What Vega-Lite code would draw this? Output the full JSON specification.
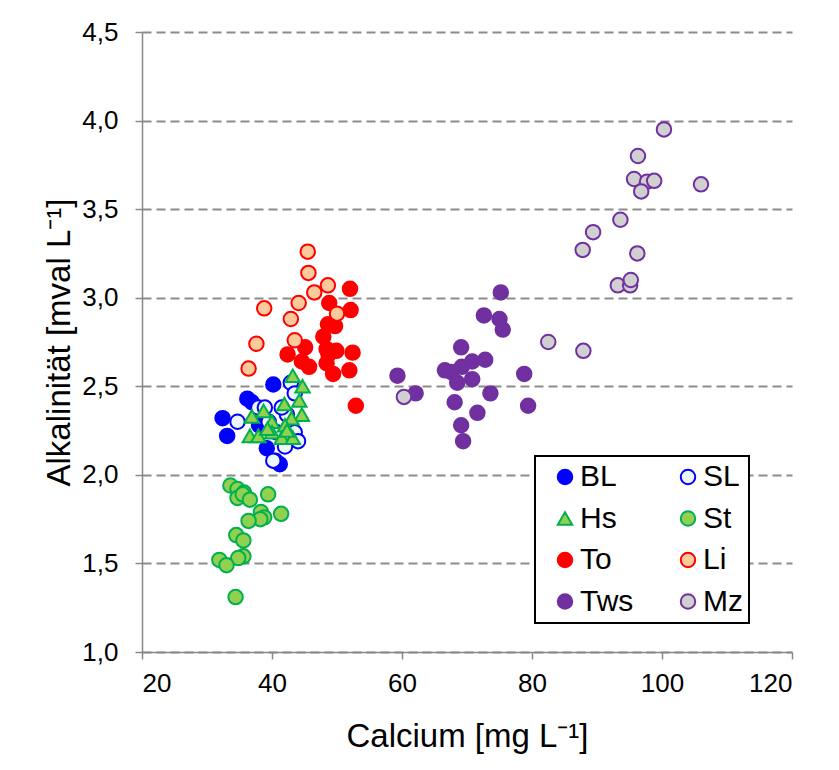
{
  "$schema": "https://vega.github.io/schema/vega-lite/v6.json",
  "width": 650,
  "height": 620,
  "autosize": {"type": "none"},
  "padding": {"left": 142, "top": 32, "right": 47, "bottom": 118},
  "background": "white",
  "config": {
    "locale": {"number": {"decimal": ",", "thousands": ".", "grouping": [3], "currency": ["", " €"]}},
    "font": "Liberation Sans",
    "view": {"stroke": null},
    "legend": {
      "orient": "none",
      "legendX": 393,
      "legendY": 424,
      "columns": 2,
      "direction": "horizontal",
      "padding": 6,
      "strokeColor": "black",
      "strokeWidth": 2,
      "fillColor": "white",
      "labelFont": "Liberation Sans",
      "labelFontSize": 30,
      "labelColor": "black",
      "symbolSize": 210,
      "symbolStrokeWidth": 2,
      "symbolOffset": 9,
      "labelOffset": 0,
      "columnPadding": 30,
      "rowPadding": 11.5,
      "labelLimit": 300
    }
  },
  "data": {
    "values": [
      {"s": "BL", "ca": 32.4, "alk": 2.32},
      {"s": "BL", "ca": 33.1, "alk": 2.22},
      {"s": "BL", "ca": 36.9, "alk": 2.41},
      {"s": "BL", "ca": 36.2, "alk": 2.43},
      {"s": "BL", "ca": 40.2, "alk": 2.51},
      {"s": "BL", "ca": 39.2, "alk": 2.15},
      {"s": "BL", "ca": 40.5, "alk": 2.08},
      {"s": "BL", "ca": 41.2, "alk": 2.06},
      {"s": "BL", "ca": 38.0, "alk": 2.28},
      {"s": "SL", "ca": 34.7, "alk": 2.30},
      {"s": "SL", "ca": 37.9, "alk": 2.38},
      {"s": "SL", "ca": 38.9, "alk": 2.38},
      {"s": "SL", "ca": 42.9, "alk": 2.52},
      {"s": "SL", "ca": 43.5, "alk": 2.46},
      {"s": "SL", "ca": 42.3, "alk": 2.34},
      {"s": "SL", "ca": 40.7, "alk": 2.24},
      {"s": "SL", "ca": 43.5, "alk": 2.24},
      {"s": "SL", "ca": 44.0, "alk": 2.19},
      {"s": "SL", "ca": 42.0, "alk": 2.16},
      {"s": "SL", "ca": 40.2, "alk": 2.08},
      {"s": "SL", "ca": 39.5, "alk": 2.30},
      {"s": "SL", "ca": 41.5, "alk": 2.38},
      {"s": "Hs", "ca": 43.2, "alk": 2.56},
      {"s": "Hs", "ca": 44.7, "alk": 2.50},
      {"s": "Hs", "ca": 44.2, "alk": 2.42},
      {"s": "Hs", "ca": 41.9, "alk": 2.40},
      {"s": "Hs", "ca": 44.6, "alk": 2.34},
      {"s": "Hs", "ca": 43.0, "alk": 2.32},
      {"s": "Hs", "ca": 38.7, "alk": 2.36},
      {"s": "Hs", "ca": 36.9, "alk": 2.33},
      {"s": "Hs", "ca": 40.0, "alk": 2.30},
      {"s": "Hs", "ca": 42.0, "alk": 2.28},
      {"s": "Hs", "ca": 36.6, "alk": 2.22},
      {"s": "Hs", "ca": 37.9, "alk": 2.22},
      {"s": "Hs", "ca": 40.0, "alk": 2.24},
      {"s": "Hs", "ca": 41.5, "alk": 2.21},
      {"s": "Hs", "ca": 43.2, "alk": 2.21},
      {"s": "Hs", "ca": 42.3, "alk": 2.25},
      {"s": "Hs", "ca": 39.3, "alk": 2.26},
      {"s": "St", "ca": 33.6, "alk": 1.94},
      {"s": "St", "ca": 34.7, "alk": 1.92},
      {"s": "St", "ca": 35.7, "alk": 1.90},
      {"s": "St", "ca": 34.7, "alk": 1.87},
      {"s": "St", "ca": 35.5, "alk": 1.89},
      {"s": "St", "ca": 36.6, "alk": 1.86},
      {"s": "St", "ca": 39.4, "alk": 1.89},
      {"s": "St", "ca": 41.4, "alk": 1.78},
      {"s": "St", "ca": 38.3, "alk": 1.79},
      {"s": "St", "ca": 38.8, "alk": 1.76},
      {"s": "St", "ca": 38.2, "alk": 1.75},
      {"s": "St", "ca": 36.4, "alk": 1.74},
      {"s": "St", "ca": 34.5, "alk": 1.66},
      {"s": "St", "ca": 35.6, "alk": 1.63},
      {"s": "St", "ca": 35.6, "alk": 1.54},
      {"s": "St", "ca": 34.8, "alk": 1.53},
      {"s": "St", "ca": 31.9, "alk": 1.52},
      {"s": "St", "ca": 33.0, "alk": 1.49},
      {"s": "St", "ca": 34.4, "alk": 1.31},
      {"s": "To", "ca": 52.0, "alk": 3.05},
      {"s": "To", "ca": 48.8, "alk": 2.97},
      {"s": "To", "ca": 52.1, "alk": 2.93},
      {"s": "To", "ca": 48.6, "alk": 2.85},
      {"s": "To", "ca": 49.7, "alk": 2.84},
      {"s": "To", "ca": 47.9, "alk": 2.78},
      {"s": "To", "ca": 45.1, "alk": 2.72},
      {"s": "To", "ca": 42.4, "alk": 2.68},
      {"s": "To", "ca": 48.4, "alk": 2.71},
      {"s": "To", "ca": 49.9, "alk": 2.70},
      {"s": "To", "ca": 52.4, "alk": 2.69},
      {"s": "To", "ca": 48.7, "alk": 2.68},
      {"s": "To", "ca": 44.6, "alk": 2.64},
      {"s": "To", "ca": 45.7, "alk": 2.61},
      {"s": "To", "ca": 48.4, "alk": 2.63},
      {"s": "To", "ca": 49.4, "alk": 2.57},
      {"s": "To", "ca": 51.9, "alk": 2.59},
      {"s": "To", "ca": 52.9, "alk": 2.39},
      {"s": "Li", "ca": 45.5, "alk": 3.26},
      {"s": "Li", "ca": 45.6, "alk": 3.14},
      {"s": "Li", "ca": 48.6, "alk": 3.07},
      {"s": "Li", "ca": 46.5, "alk": 3.03},
      {"s": "Li", "ca": 38.8, "alk": 2.94},
      {"s": "Li", "ca": 44.1, "alk": 2.97},
      {"s": "Li", "ca": 50.0, "alk": 2.91},
      {"s": "Li", "ca": 42.9, "alk": 2.88},
      {"s": "Li", "ca": 43.5, "alk": 2.76},
      {"s": "Li", "ca": 37.6, "alk": 2.74},
      {"s": "Li", "ca": 36.4, "alk": 2.60},
      {"s": "Tws", "ca": 75.2, "alk": 3.03},
      {"s": "Tws", "ca": 72.6, "alk": 2.90},
      {"s": "Tws", "ca": 75.0, "alk": 2.88},
      {"s": "Tws", "ca": 75.5, "alk": 2.82},
      {"s": "Tws", "ca": 69.1, "alk": 2.72},
      {"s": "Tws", "ca": 59.3, "alk": 2.56},
      {"s": "Tws", "ca": 66.6, "alk": 2.59},
      {"s": "Tws", "ca": 67.6, "alk": 2.58},
      {"s": "Tws", "ca": 69.2, "alk": 2.61},
      {"s": "Tws", "ca": 70.8, "alk": 2.64},
      {"s": "Tws", "ca": 72.8, "alk": 2.65},
      {"s": "Tws", "ca": 68.5, "alk": 2.52},
      {"s": "Tws", "ca": 70.8, "alk": 2.54},
      {"s": "Tws", "ca": 78.8, "alk": 2.57},
      {"s": "Tws", "ca": 62.1, "alk": 2.46},
      {"s": "Tws", "ca": 73.6, "alk": 2.46},
      {"s": "Tws", "ca": 68.1, "alk": 2.41},
      {"s": "Tws", "ca": 79.4, "alk": 2.39},
      {"s": "Tws", "ca": 71.6, "alk": 2.35},
      {"s": "Tws", "ca": 69.1, "alk": 2.28},
      {"s": "Tws", "ca": 69.4, "alk": 2.19},
      {"s": "Mz", "ca": 100.3, "alk": 3.95},
      {"s": "Mz", "ca": 96.3, "alk": 3.80},
      {"s": "Mz", "ca": 95.7, "alk": 3.67},
      {"s": "Mz", "ca": 97.7, "alk": 3.655},
      {"s": "Mz", "ca": 98.8, "alk": 3.66},
      {"s": "Mz", "ca": 96.8, "alk": 3.60},
      {"s": "Mz", "ca": 106.0, "alk": 3.64},
      {"s": "Mz", "ca": 93.6, "alk": 3.44},
      {"s": "Mz", "ca": 89.4, "alk": 3.37},
      {"s": "Mz", "ca": 87.8, "alk": 3.27},
      {"s": "Mz", "ca": 96.2, "alk": 3.25},
      {"s": "Mz", "ca": 93.2, "alk": 3.07},
      {"s": "Mz", "ca": 95.1, "alk": 3.07},
      {"s": "Mz", "ca": 95.2, "alk": 3.10},
      {"s": "Mz", "ca": 87.9, "alk": 2.70},
      {"s": "Mz", "ca": 82.5, "alk": 2.75},
      {"s": "Mz", "ca": 60.3, "alk": 2.44}
    ]
  },
  "mark": {"type": "point", "filled": false, "size": 210, "strokeWidth": 2, "opacity": 1},
  "encoding": {
    "x": {
      "field": "ca",
      "type": "quantitative",
      "scale": {"domain": [20, 120], "nice": false, "zero": false},
      "axis": {
        "title": "Calcium [mg L⁻¹]",
        "values": [20, 40, 60, 80, 100, 120],
        "format": "d",
        "grid": false,
        "domainColor": "#888888",
        "domainWidth": 1.5,
        "tickColor": "#888888",
        "tickWidth": 1.5,
        "tickSize": 7,
        "labelPadding": 11,
        "labelFont": "Liberation Sans",
        "labelFontSize": 26,
        "labelColor": "black",
        "titleFont": "Liberation Sans",
        "titleFontSize": 33,
        "titleFontWeight": "normal",
        "titleColor": "black",
        "titlePadding": 24
      }
    },
    "y": {
      "field": "alk",
      "type": "quantitative",
      "scale": {"domain": [1, 4.5], "nice": false, "zero": false},
      "axis": {
        "title": "Alkalinität [mval L⁻¹]",
        "values": [1, 1.5, 2, 2.5, 3, 3.5, 4, 4.5],
        "format": ".1f",
        "grid": true,
        "gridColor": "#8c8c8c",
        "gridDash": [9, 5],
        "gridWidth": 2,
        "domainColor": "#888888",
        "domainWidth": 1.5,
        "tickColor": "#888888",
        "tickWidth": 1.5,
        "tickSize": 7,
        "labelPadding": 17,
        "labelFont": "Liberation Sans",
        "labelFontSize": 26,
        "labelColor": "black",
        "titleFont": "Liberation Sans",
        "titleFontSize": 33,
        "titleFontWeight": "normal",
        "titleColor": "black",
        "titlePadding": 5
      }
    },
    "shape": {
      "field": "s",
      "type": "nominal",
      "scale": {
        "domain": ["BL", "SL", "Hs", "St", "To", "Li", "Tws", "Mz"],
        "range": ["circle", "circle", "triangle-up", "circle", "circle", "circle", "circle", "circle"]
      },
      "legend": {"title": null}
    },
    "fill": {
      "field": "s",
      "type": "nominal",
      "scale": {
        "domain": ["BL", "SL", "Hs", "St", "To", "Li", "Tws", "Mz"],
        "range": ["#0000ff", "#eef7f7", "#92d050", "#92d050", "#ff0000", "#fbc99a", "#7030a0", "#d0d0d0"]
      },
      "legend": {"title": null}
    },
    "stroke": {
      "field": "s",
      "type": "nominal",
      "scale": {
        "domain": ["BL", "SL", "Hs", "St", "To", "Li", "Tws", "Mz"],
        "range": ["#0000ff", "#0000ff", "#00b050", "#00b050", "#ff0000", "#ff0000", "#7030a0", "#7030a0"]
      },
      "legend": {"title": null}
    }
  }
}
